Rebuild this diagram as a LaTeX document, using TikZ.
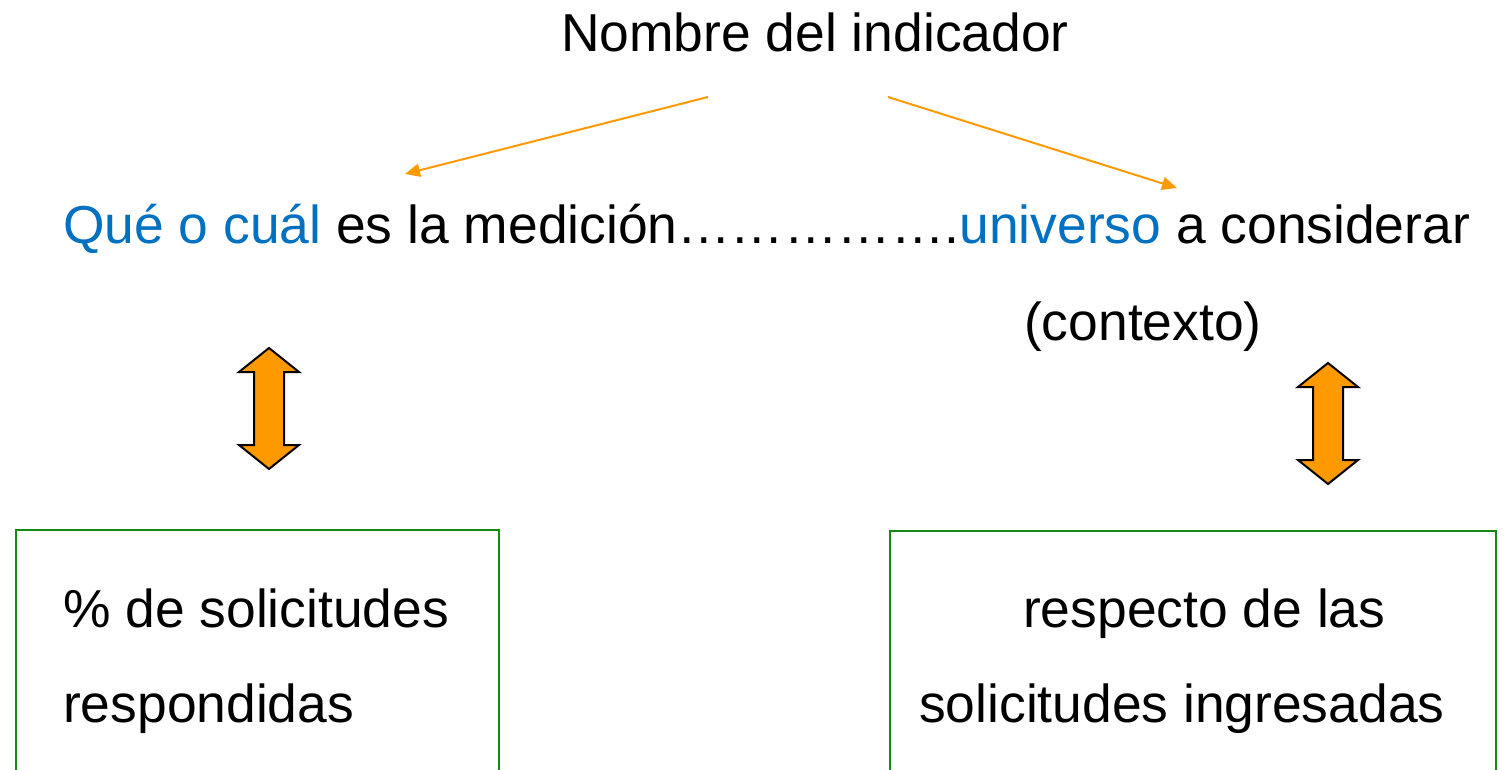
\documentclass[tikz,border=0pt]{standalone}
\usepackage{fontspec}
\setmainfont{Liberation Sans}
\usetikzlibrary{arrows.meta}
\definecolor{orng}{HTML}{FF9900}
\definecolor{blu}{HTML}{0070C0}
\definecolor{grn}{HTML}{138A13}
\tikzset{
  txt/.style={inner sep=0pt, font=\fontsize{53.4}{60}\selectfont, anchor=base west},
  thin arrow/.style={draw=orng, line width=2pt, -{Triangle[length=15pt,width=13pt]}},
  box/.style={draw=grn, line width=2pt, inner sep=0pt},
  dbl/.style={draw=black, line width=2pt, fill=orng, line join=miter}
}
\begin{document}
\begin{tikzpicture}[x=1pt,y=-1pt]
\useasboundingbox (0,0) rectangle (1506,770);
% boxes (open at bottom, cut by the page)
\node[box, minimum width=483pt, minimum height=300pt, anchor=north west] (lbox) at (15,529) {};
\node[box, minimum width=606pt, minimum height=300pt, anchor=north west] (rbox) at (889,530) {};
% texts
\node[txt] (title) at (561,52) {Nombre del indicador};
\node[txt] (main) at (63,243) {\textcolor{blu}{Qué o cuál} es la medición…………….\textcolor{blu}{universo} a considerar};
\node[txt] (ctx) at (1024,340) {(contexto)};
\node[txt] (l1) at (63,627) {\% de solicitudes};
\node[txt] (l2) at (63,722) {respondidas};
\node[txt] (r1) at (1023,627) {respecto de las};
\node[txt] (r2) at (919,722) {solicitudes ingresadas};
% thin arrows
\coordinate (a1s) at (708,97);
\coordinate (a1e) at (405,174);
\coordinate (a2s) at (888,97);
\coordinate (a2e) at (1177,188);
\draw[thin arrow] (a1s) -- (a1e);
\draw[thin arrow] (a2s) -- (a2e);
% double arrows
\draw[dbl] (269,348) -- (299,372) -- (284,372) -- (284,445) -- (299,445) -- (269,469) -- (239,445) -- (254,445) -- (254,372) -- (239,372) -- cycle;
\draw[dbl] (1328,363) -- (1358,387) -- (1343,387) -- (1343,460) -- (1358,460) -- (1328,484) -- (1298,460) -- (1313,460) -- (1313,387) -- (1298,387) -- cycle;
\end{tikzpicture}
\end{document}
